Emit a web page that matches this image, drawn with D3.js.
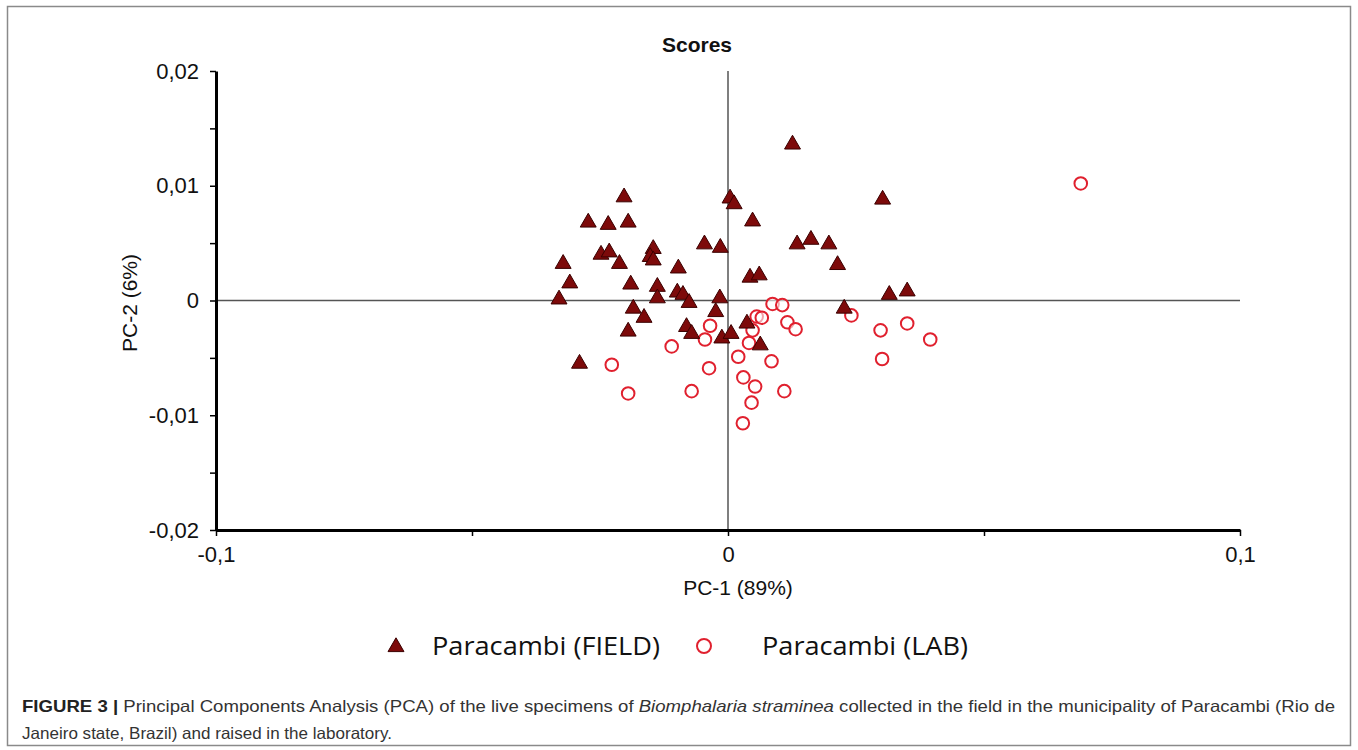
<!DOCTYPE html>
<html lang="en">
<head>
<meta charset="UTF-8">
<title>Scores</title>
<style>
  body { margin: 0; background: #fff; }
  text { font-family: "Liberation Sans", Arial, sans-serif; }
</style>
</head>
<body>
<svg id="chart" width="1358" height="750"></svg>
<script src="https://d3js.org/d3.v7.min.js"></script>
<script>
// PC scores
var fieldX = [0.0126, 0.0302, -0.0203, 0.0004, 0.0012, -0.0273, -0.0234, -0.0195, 0.0048, -0.0046,
              -0.0015, 0.0135, 0.0162, 0.0197, 0.0214, -0.0322, -0.0309, -0.0248, -0.0232, -0.0212,
              -0.0146, -0.0152, -0.0146, -0.0097, -0.0190, -0.0138, -0.0138, -0.0099, -0.0088, -0.0076,
              -0.0330, -0.0016, -0.0185, -0.0164, -0.0024, -0.0195, -0.0081, -0.0071, -0.0012, 0.0006,
              -0.0290, 0.0043, 0.0061, 0.0315, 0.0350, 0.0227, 0.0037, 0.0063];
var fieldY = [0.0136, 0.0088, 0.0090, 0.0089, 0.0084, 0.0068, 0.0066, 0.0068, 0.0069, 0.0049,
              0.0046, 0.0049, 0.0053, 0.0049, 0.0031, 0.0032, 0.0015, 0.0040, 0.0042, 0.0032,
              0.0045, 0.0038, 0.0035, 0.0028, 0.0014, 0.0012, 0.0002, 0.0007, 0.0005, -0.0002,
              0.0001, 0.0002, -0.0007, -0.0015, -0.0010, -0.0027, -0.0023, -0.0029, -0.0033, -0.0029,
              -0.0055, 0.0020, 0.0022, 0.0005, 0.0008, -0.0007, -0.0020, -0.0039];
var labX = [0.0689, 0.0087, 0.0106, 0.0056, 0.0066, 0.0116, 0.0132, 0.0048, 0.0041, 0.0241,
            0.0298, 0.0350, 0.0395, 0.0301, 0.0020, 0.0085, 0.0030, 0.0053, 0.0110, 0.0046,
            0.0029, -0.0035, -0.0045, -0.0110, -0.0227, -0.0037, -0.0195, -0.0071];
var labY = [0.0102, -0.0003, -0.0004, -0.0014, -0.0015, -0.0019, -0.0025, -0.0026, -0.0037, -0.0013,
            -0.0026, -0.0020, -0.0034, -0.0051, -0.0049, -0.0053, -0.0067, -0.0075, -0.0079, -0.0089,
            -0.0107, -0.0022, -0.0034, -0.0040, -0.0056, -0.0059, -0.0081, -0.0079];

var xTicks = [-0.1, -0.05, 0, 0.05, 0.1];
var xTickLabels = ["-0,1", "", "0", "", "0,1"];
var yTicks = [-0.02, -0.015, -0.01, -0.005, 0, 0.005, 0.01, 0.015, 0.02];
var yTickLabels = ["-0,02", "", "-0,01", "", "0", "", "0,01", "", "0,02"];
var seriesNames = ["Paracambi (FIELD)", "Paracambi (LAB)"];

var svg = d3.select("#chart");

// figure frame
svg.append("rect")
   .attr("x", 7.5).attr("y", 6.5)
   .attr("width", 1343).attr("height", 739)
   .attr("fill", "none").attr("stroke", "#8a8a8a").attr("stroke-width", 1.5);

var x = d3.scaleLinear().domain([-0.1, 0.1]).range([216, 1240]);
var y = d3.scaleLinear().domain([-0.02, 0.02]).range([530, 71]);

// zero lines
svg.append("line")
   .attr("x1", x(0)).attr("x2", x(0)).attr("y1", y(0.02)).attr("y2", y(-0.02))
   .attr("stroke", "#555").attr("stroke-width", 1.5);
svg.append("line")
   .attr("x1", x(-0.1)).attr("x2", x(0.1)).attr("y1", y(0)).attr("y2", y(0))
   .attr("stroke", "#555").attr("stroke-width", 1.5);

var yAxis = svg.append("g")
   .attr("transform", "translate(" + x(-0.1) + ",0)")
   .call(d3.axisLeft(y).tickValues(yTicks).tickSize(6).tickSizeOuter(0)
          .tickFormat(function (d, i) { return yTickLabels[i]; }));

var xAxis = svg.append("g")
   .attr("transform", "translate(0," + y(-0.02) + ")")
   .call(d3.axisBottom(x).tickValues(xTicks).tickSize(6).tickSizeOuter(0)
          .tickFormat(function (d, i) { return xTickLabels[i]; }));

[xAxis, yAxis].forEach(function (ax) {
  ax.select(".domain").attr("stroke", "#000").attr("stroke-width", 3);
  ax.selectAll(".tick line").attr("stroke", "#000").attr("stroke-width", 1.5);
  ax.selectAll(".tick text")
    .attr("fill", "#111")
    .style("font-family", "'Liberation Sans', Arial, sans-serif")
    .style("font-size", "22px");
});
yAxis.selectAll(".tick text").attr("x", -17);
xAxis.selectAll(".tick text").attr("y", 16);

// titles
svg.append("text")
   .attr("x", 697).attr("y", 52)
   .attr("text-anchor", "middle")
   .style("font-size", "21px").style("font-weight", "bold").attr("fill", "#111")
   .text("Scores");

svg.append("text")
   .attr("x", 738).attr("y", 595)
   .attr("text-anchor", "middle")
   .style("font-size", "21px").attr("fill", "#111")
   .text("PC-1 (89%)");

svg.append("text")
   .attr("transform", "translate(137,303) rotate(-90)")
   .attr("text-anchor", "middle")
   .style("font-size", "21px").attr("fill", "#111")
   .text("PC-2 (6%)");

// points
var tri = d3.symbol().type(d3.symbolTriangle).size(110);

svg.append("g").selectAll("circle")
   .data(labX)
   .join("circle")
   .attr("cx", function (d) { return x(d); })
   .attr("cy", function (d, i) { return y(labY[i]); })
   .attr("r", 6.3)
   .attr("fill", "#fff").attr("fill-opacity", 0.6)
   .attr("stroke", "#e0202e").attr("stroke-width", 2);

svg.append("g").selectAll("path")
   .data(fieldX)
   .join("path")
   .attr("d", tri)
   .attr("transform", function (d, i) { return "translate(" + x(d) + "," + y(fieldY[i]) + ")"; })
   .attr("fill", "#7d0a0a")
   .attr("stroke", "#3a0000").attr("stroke-width", 1);

// legend
var legend = svg.append("g");
legend.append("path")
   .attr("d", d3.symbol().type(d3.symbolTriangle).size(110))
   .attr("transform", "translate(396,647)")
   .attr("fill", "#7d0a0a").attr("stroke", "#3a0000");
legend.append("circle")
   .attr("cx", 704).attr("cy", 646).attr("r", 7)
   .attr("fill", "#fff").attr("stroke", "#e0202e").attr("stroke-width", 2);
legend.selectAll("text.lg")
   .data(seriesNames)
   .join("text")
   .attr("class", "lg")
   .attr("x", function (d, i) { return i === 0 ? 432 : 762; })
   .attr("y", 655)
   .attr("textLength", function (d, i) { return i === 0 ? 228 : 206; })
   .attr("lengthAdjust", "spacingAndGlyphs")
   .style("font-family", "'Open Sans', sans-serif")
   .style("font-size", "26px").attr("fill", "#111")
   .text(function (d) { return d; });

// caption
var cap1 = svg.append("text")
   .attr("x", 22).attr("y", 712)
   .style("font-family", "'Liberation Sans', Arial, sans-serif")
   .style("font-size", "16.5px").attr("fill", "#333");
cap1.append("tspan").style("font-weight", "bold").attr("fill", "#222").text("FIGURE 3 | ");
cap1.append("tspan").text("Principal Components Analysis (PCA) of the live specimens of ");
cap1.append("tspan").style("font-style", "italic").text("Biomphalaria straminea");
cap1.append("tspan").text(" collected in the field in the municipality of Paracambi (Rio de");
cap1.attr("textLength", 1313).attr("lengthAdjust", "spacingAndGlyphs");

svg.append("text")
   .attr("x", 22).attr("y", 739)
   .style("font-family", "'Liberation Sans', Arial, sans-serif")
   .style("font-size", "16.5px").attr("fill", "#333")
   .attr("textLength", 370).attr("lengthAdjust", "spacingAndGlyphs")
   .text("Janeiro state, Brazil) and raised in the laboratory.");
</script>
</body>
</html>
